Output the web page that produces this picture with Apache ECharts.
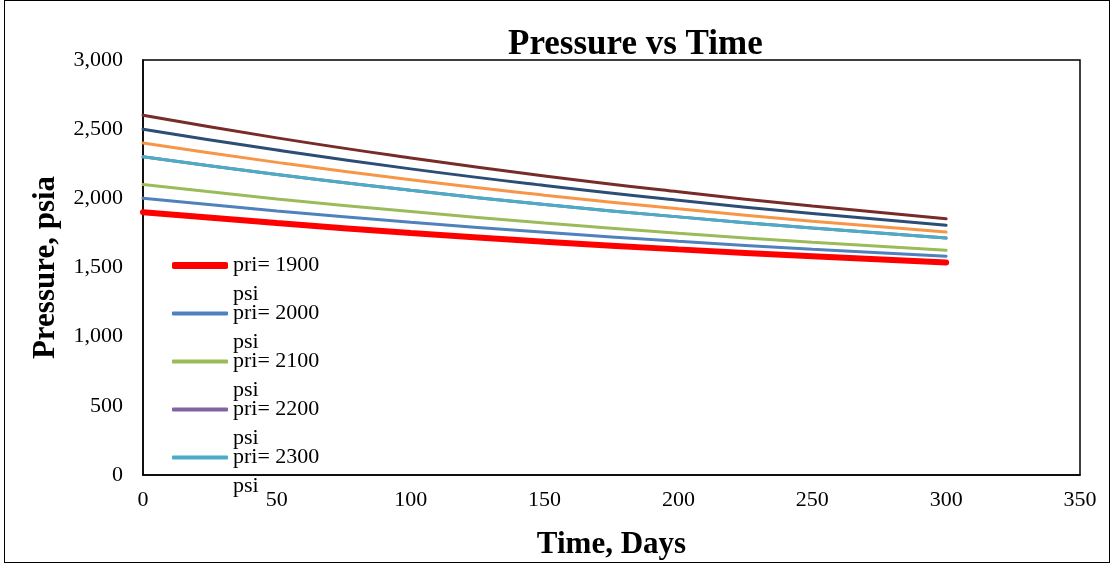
<!DOCTYPE html>
<html>
<head>
<meta charset="utf-8">
<script src="https://cdn.jsdelivr.net/npm/echarts@6/dist/echarts.min.js"></script>
<style>
  body { margin: 0; background: #fff; }
  #chart { width: 1114px; height: 565px; }
  #frame { position: absolute; left: 4px; top: 0; width: 1104px; height: 561px; border: 1px solid #000; pointer-events: none; }
</style>
</head>
<body>
<div id="chart"></div>
<div id="frame"></div>
<script>
const days = [0, 50, 100, 150, 200, 250, 300];
const names = ['pri= 1900 psi', 'pri= 2000 psi', 'pri= 2100 psi', 'pri= 2200 psi', 'pri= 2300 psi', 'pri= 2400 psi', 'pri= 2500 psi', 'pri= 2600 psi'];
const p1900 = [1900, 1821, 1750, 1687, 1631, 1582, 1537];
const p2000 = [2000, 1909, 1827, 1755, 1690, 1632, 1581];
const p2100 = [2100, 1996, 1904, 1821, 1748, 1682, 1624];
const p2200 = [2300, 2172, 2058, 1956, 1866, 1785, 1713]; // hidden under 2300 line
const p2300 = [2300, 2172, 2058, 1956, 1866, 1785, 1713];
const p2400 = [2400, 2260, 2134, 2023, 1924, 1835, 1756];
const p2500 = [2500, 2349, 2213, 2093, 1986, 1890, 1805];
const p2600 = [2600, 2437, 2292, 2162, 2047, 1944, 1852];
const values = [p1900, p2000, p2100, p2200, p2300, p2400, p2500, p2600];
const colors = ['#FF0000', '#4F81BD', '#9BBB59', '#8064A2', '#4BACC6', '#F79646', '#2C4D75', '#772C2A'];

const font = 'Liberation Serif';
const myChart = echarts.init(document.getElementById('chart'));

// legend: only the first five entries fit, one legend per item
const legendTops = [222, 270, 318, 366, 414];
const legends = legendTops.map((top, i) => ({
  data: [names[i]],
  left: 172,
  top: top,
  padding: 0,
  icon: 'roundRect',
  itemWidth: 56,
  itemHeight: i === 0 ? 7 : 4,
  itemGap: 0,
  formatter: (n) => '\n' + n.replace(' psi', '\npsi'), // blank first line keeps "pri=" level with the icon
  textStyle: {
    fontFamily: font,
    fontSize: 22,
    color: '#000',
    lineHeight: 29,
  },
}));

const series = values.map((v, i) => ({
  name: names[i],
  type: 'line',
  data: days.map((d, j) => [d, v[j]]),
  smooth: true,
  symbol: 'none',
  lineStyle: {
    color: colors[i],
    width: i === 0 ? 6 : 3,
    cap: 'round',
  },
  itemStyle: { color: colors[i] },
  z: 2 + i,
}));

const options = {
  animation: false,
  title: {
    text: 'Pressure vs Time',
    left: 503,
    top: 22,
    textStyle: { fontFamily: font, fontSize: 35, fontWeight: 'bold', color: '#000' },
  },
  legend: legends,
  grid: {
    left: 143,
    right: 34,
    top: 60,
    bottom: 90,
    show: true,
    borderColor: '#000',
    borderWidth: 1.5,
    containLabel: false,
  },
  xAxis: {
    type: 'value',
    min: 0,
    max: 350,
    interval: 50,
    name: 'Time, Days',
    nameLocation: 'middle',
    nameGap: 54,
    nameTextStyle: { fontFamily: font, fontSize: 31, fontWeight: 'bold', color: '#000' },
    axisLine: { lineStyle: { color: '#000', width: 1.5 } },
    axisTick: { show: false },
    splitLine: { show: false },
    axisLabel: { fontFamily: font, fontSize: 22, color: '#000', margin: 14 },
  },
  yAxis: {
    type: 'value',
    min: 0,
    max: 3000,
    interval: 500,
    name: 'Pressure, psia',
    nameLocation: 'middle',
    nameGap: 82,
    nameTextStyle: { fontFamily: font, fontSize: 31, fontWeight: 'bold', color: '#000' },
    axisLine: { show: true, lineStyle: { color: '#000', width: 1.5 } },
    axisTick: { show: false },
    splitLine: { show: false },
    axisLabel: {
      fontFamily: font,
      fontSize: 22,
      color: '#000',
      margin: 20,
      formatter: (v) => v.toLocaleString('en-US'),
    },
  },
  series: series,
};
myChart.setOption(options);
</script>
</body>
</html>
